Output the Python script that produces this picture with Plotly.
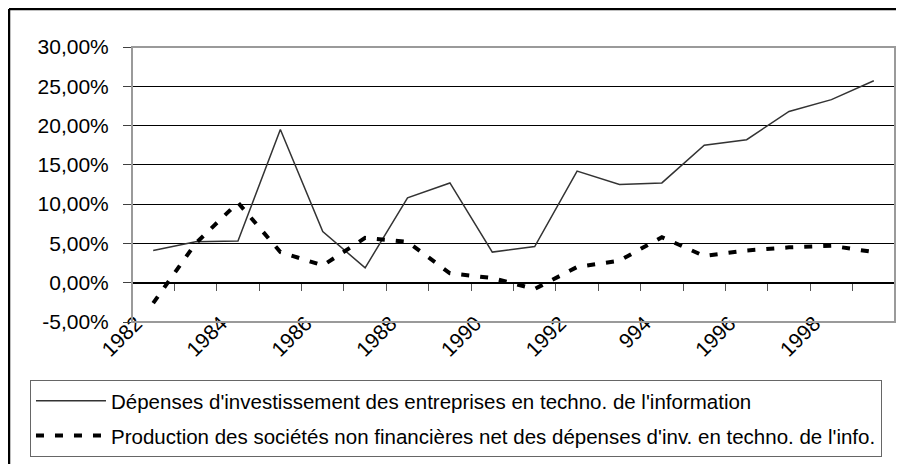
import plotly.graph_objects as go

# Données (en %)
annees = list(range(1982, 2000))
invest_ti = [4.1, 5.2, 5.3, 19.5, 6.5, 1.9, 10.8, 12.7, 3.9, 4.6,
             14.2, 12.5, 12.7, 17.5, 18.2, 21.8, 23.3, 25.7]
production_nette = [-2.6, 5.0, 10.2, 3.9, 2.2, 5.7, 5.2, 1.2, 0.6, -0.8,
                    2.0, 2.8, 5.8, 3.4, 4.1, 4.5, 4.7, 3.9]

nom_invest = "Dépenses d'investissement des entreprises en techno. de l'information"
nom_prod = "Production des sociétés non financières net des dépenses d'inv. en techno. de l'info."

y_ticks = [-5, 0, 5, 10, 15, 20, 25, 30]
y_labels = ["-5,00%", "0,00%", "5,00%", "10,00%", "15,00%", "20,00%", "25,00%", "30,00%"]
x_ticks = [1982, 1984, 1986, 1988, 1990, 1992, 1994, 1996, 1998]
x_labels = ["1982", "1984", "1986", "1988", "1990", "1992", "994", "1996", "1998"]

police = dict(family="Liberation Sans, Arial, sans-serif", size=20.5, color="black")
police_axes = dict(family="Liberation Sans, Arial, sans-serif", size=21, color="black")

fig = go.Figure()
fig.add_trace(go.Scatter(x=annees, y=invest_ti, name=nom_invest, mode="lines",
                         line=dict(color="#333333", width=1.5), legendgroup="a"))
fig.add_trace(go.Scatter(x=annees, y=production_nette, name=nom_prod, mode="lines",
                         line=dict(color="black", width=4, dash="8px,11px"), legendgroup="b"))
# trace vide pour que l'axe des catégories (sur la ligne 0) soit dessiné
fig.add_trace(go.Scatter(x=[], y=[], xaxis="x2", showlegend=False, hoverinfo="skip"))

# la page ajoute une marge de 8 px : la figure commence en (8, 8)
fig.update_layout(
    width=896, height=456, autosize=False,
    margin=dict(l=124, r=9, t=39, b=142, autoexpand=False),
    paper_bgcolor="white", plot_bgcolor="white",
    font=police,
    showlegend=True,
    legend=dict(x=-0.1337, xanchor="left", y=-0.211, yanchor="top",
                bordercolor="#666666", borderwidth=1, bgcolor="white",
                itemwidth=70, tracegroupgap=5, font=police),
    xaxis=dict(range=[1981.5, 1999.5], tickvals=x_ticks, ticktext=x_labels,
               tickangle=-45, showgrid=False, zeroline=False, ticks="",
               showline=False, ticklabelshift=-17, ticklabelstandoff=-16,
               tickfont=police_axes),
    xaxis2=dict(overlaying="x", matches="x", anchor="free", position=5 / 35,
                range=[1981.5, 1999.5], showgrid=False, zeroline=False,
                showline=True, linecolor="black", linewidth=1,
                ticks="outside", ticklen=7, tickcolor="#555555", tickwidth=1,
                tickvals=[a + 0.5 for a in annees[:-1]], showticklabels=False),
    yaxis=dict(range=[-5, 30], tickvals=y_ticks, ticktext=y_labels,
               showgrid=True, gridcolor="black", gridwidth=1, zeroline=False,
               showline=True, linecolor="#404040", linewidth=1,
               ticks="outside", ticklen=8, tickcolor="#404040",
               ticklabelstandoff=10, tickfont=police_axes),
    shapes=[
        # cadre de la zone de tracé
        dict(type="rect", xref="paper", yref="paper", x0=0, x1=1, y0=0, y1=1,
             line=dict(color="#9a9a9a", width=2), layer="above"),
        # cadre extérieur du graphique (bords haut et gauche)
        dict(type="line", xref="paper", yref="paper", x0=-0.1612, x1=1.5, y0=1.1382, y1=1.1382,
             line=dict(color="black", width=2.5), layer="above"),
        dict(type="line", xref="paper", yref="paper", x0=-0.1612, x1=-0.1612, y0=-0.7, y1=1.1382,
             line=dict(color="black", width=2.5), layer="above"),
    ],
)

fig.write_html("out.html")
